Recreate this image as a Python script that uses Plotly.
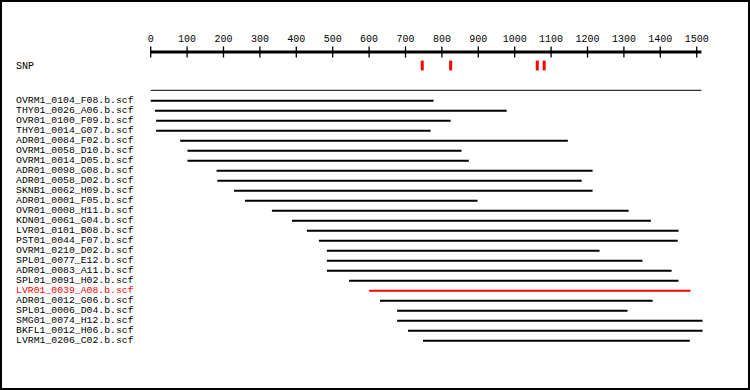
import plotly.graph_objects as go

# ---------------- data ----------------
read_names = [
    "OVRM1_0104_F08.b.scf", "THY01_0026_A06.b.scf", "OVR01_0100_F09.b.scf",
    "THY01_0014_G07.b.scf", "ADR01_0084_F02.b.scf", "OVRM1_0058_D10.b.scf",
    "OVRM1_0014_D05.b.scf", "ADR01_0098_G08.b.scf", "ADR01_0058_D02.b.scf",
    "SKNB1_0062_H09.b.scf", "ADR01_0001_F05.b.scf", "OVR01_0008_H11.b.scf",
    "KDN01_0061_G04.b.scf", "LVR01_0101_B08.b.scf", "PST01_0044_F07.b.scf",
    "OVRM1_0210_D02.b.scf", "SPL01_0077_E12.b.scf", "ADR01_0083_A11.b.scf",
    "SPL01_0091_H02.b.scf", "LVR01_0039_A08.b.scf", "ADR01_0012_G06.b.scf",
    "SPL01_0006_D04.b.scf", "SMG01_0074_H12.b.scf", "BKFL1_0012_H06.b.scf",
    "LVRM1_0206_C02.b.scf",
]
read_starts = [0, 12, 15, 15, 81, 101, 101, 181, 183, 229, 259, 333, 388,
               429, 462, 484, 484, 484, 545, 600, 630, 677, 677, 707, 748]
read_ends = [777, 978, 824, 769, 1146, 854, 874, 1214, 1184, 1214, 898, 1313,
             1374, 1450, 1448, 1233, 1351, 1431, 1450, 1483, 1379, 1310, 1516,
             1516, 1481]
highlight_read = "LVR01_0039_A08.b.scf"
snp_positions = [746, 824, 1062, 1081]
seq_length = 1513
tick_values = [0, 100, 200, 300, 400, 500, 600, 700, 800, 900, 1000, 1100,
               1200, 1300, 1400, 1500]
tick_labels = [str(v) for v in tick_values]

# ---------------- layout constants ----------------
W, H = 750, 390
X0_PX = 150.7          # pixel of position 0
SCALE = 0.364          # pixels per base
ROW0_PX = 100.7        # pixel of first read row
ROW_STEP = 10.0
x_range = [-X0_PX / SCALE, (W - X0_PX) / SCALE]
y_range = [(H - ROW0_PX) / ROW_STEP, -ROW0_PX / ROW_STEP]

def row_of(px):
    return (px - ROW0_PX) / ROW_STEP

label_x = (15 - X0_PX) / SCALE
FONT = "Liberation Mono"
RED = "#ff0000"

fig = go.Figure()

# ruler axis line
fig.add_trace(go.Scatter(x=[0, seq_length], y=[row_of(52)] * 2, mode="lines",
                         line=dict(color="black", width=3), hoverinfo="skip"))
# ruler ticks
fig.add_trace(go.Scatter(x=tick_values, y=[row_of(52)] * len(tick_values),
                         mode="markers",
                         marker=dict(symbol="line-ns", size=8,
                                     line=dict(color="black", width=1.3)),
                         hoverinfo="skip"))
# tick labels
fig.add_trace(go.Scatter(x=tick_values, y=[row_of(39.5)] * len(tick_values),
                         mode="text", text=tick_labels,
                         textfont=dict(family=FONT, size=10, color="black"),
                         hoverinfo="skip"))
# SNP markers
fig.add_trace(go.Scatter(x=snp_positions, y=[row_of(65.5)] * len(snp_positions),
                         mode="markers",
                         marker=dict(symbol="line-ns", size=7,
                                     line=dict(color=RED, width=3)),
                         hoverinfo="skip"))
# reference sequence line
fig.add_trace(go.Scatter(x=[0, seq_length], y=[row_of(90.3)] * 2, mode="lines",
                         line=dict(color="black", width=1), hoverinfo="skip"))

# reads
bx, by, rx, ry = [], [], [], []
for i, (n, s, e) in enumerate(zip(read_names, read_starts, read_ends)):
    if n == highlight_read:
        rx += [s, e, None]; ry += [i, i, None]
    else:
        bx += [s, e, None]; by += [i, i, None]
fig.add_trace(go.Scatter(x=bx, y=by, mode="lines",
                         line=dict(color="black", width=2), hoverinfo="skip"))
fig.add_trace(go.Scatter(x=rx, y=ry, mode="lines",
                         line=dict(color=RED, width=2), hoverinfo="skip"))

annotations = [dict(x=label_x, y=row_of(66), text="SNP", xref="x", yref="y",
                    xanchor="left", yanchor="middle", showarrow=False,
                    borderpad=0, font=dict(family=FONT, size=10, color="black"))]
for i, n in enumerate(read_names):
    annotations.append(dict(
        x=label_x, y=i, text=n, xref="x", yref="y", xanchor="left",
        yanchor="middle", showarrow=False, borderpad=0,
        font=dict(family=FONT, size=9.8,
                  color=RED if n == highlight_read else "black")))

fig.update_layout(
    width=W, height=H, margin=dict(l=0, r=0, t=0, b=0),
    paper_bgcolor="white", plot_bgcolor="white", showlegend=False,
    xaxis=dict(range=x_range, visible=False, fixedrange=True),
    yaxis=dict(range=y_range, visible=False, fixedrange=True),
    annotations=annotations,
    shapes=[dict(type="rect", xref="paper", yref="paper", x0=0, x1=1, y0=0,
                 y1=1, line=dict(color="black", width=4))],
)

fig.write_html(
    "out.html",
    config={"displayModeBar": False},
    post_script="document.body.style.margin='0';document.body.style.overflow='hidden';",
)
